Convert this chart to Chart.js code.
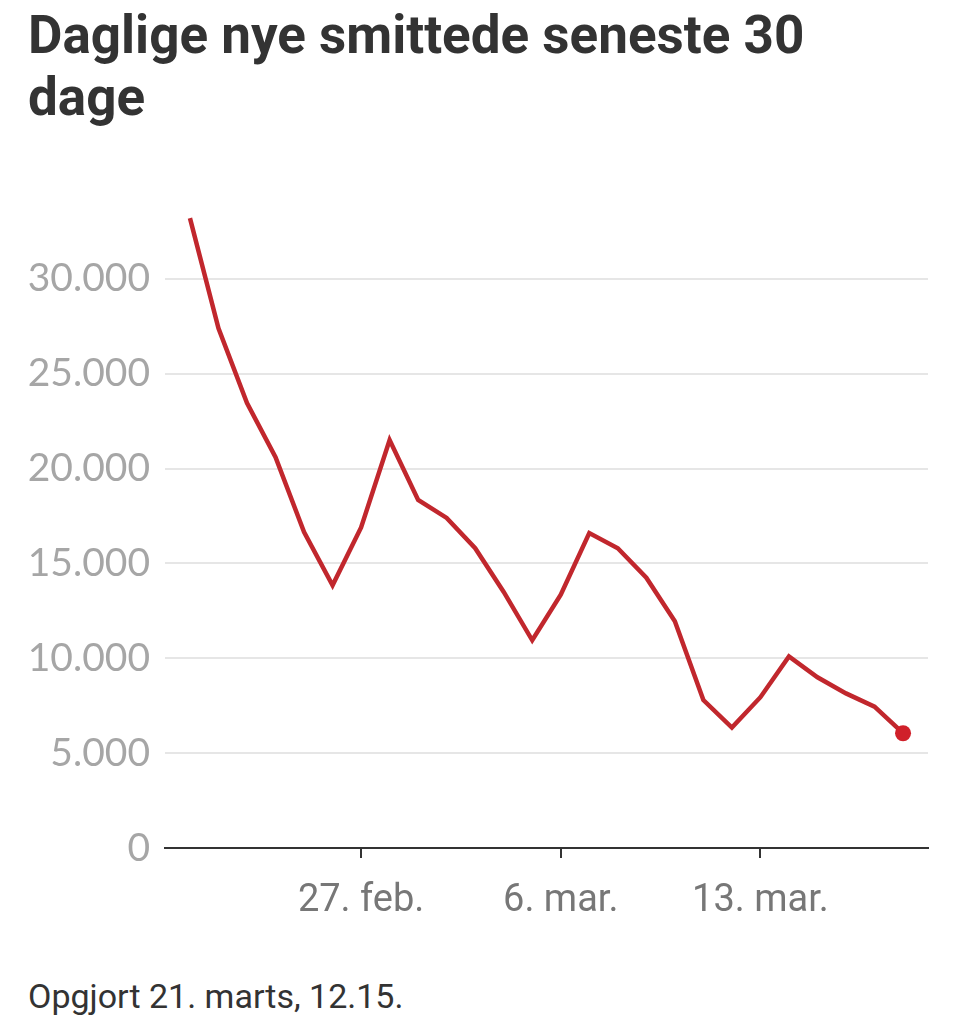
<!DOCTYPE html>
<html>
<head>
<meta charset="utf-8">
<script src="https://cdn.jsdelivr.net/npm/chart.js@4"></script>
<style>
  html, body { margin: 0; padding: 0; background: #fff; width: 960px; height: 1024px; overflow: hidden; }
  #title { position: absolute; left: 28px; top: 4px; width: 900px; margin: 0;
    font-family: "Liberation Sans Narrow", "Roboto", sans-serif; font-weight: bold;
    font-size: 53px; line-height: 62px; color: #333; }
  #note { position: absolute; left: 28px; top: 979px; margin: 0;
    font-family: "Liberation Sans Narrow", "Roboto", sans-serif;
    font-size: 34px; line-height: 34px; color: #333; }
  #wrap { position: absolute; left: 0; top: 150px; width: 960px; height: 800px; }
</style>
</head>
<body>
<h1 id="title">Daglige nye smittede seneste 30 dage</h1>
<div id="wrap"><canvas id="c"></canvas></div>
<p id="note">Opgjort 21. marts, 12.15.</p>
<script>
const dates = ['21. feb.','22. feb.','23. feb.','24. feb.','25. feb.','26. feb.','27. feb.','28. feb.',
  '1. mar.','2. mar.','3. mar.','4. mar.','5. mar.','6. mar.','7. mar.','8. mar.','9. mar.','10. mar.',
  '11. mar.','12. mar.','13. mar.','14. mar.','15. mar.','16. mar.','17. mar.','18. mar.'];
const cases = [33200, 27400, 23450, 20600, 16650, 13850, 16900, 21500, 18350, 17400, 15800, 13500,
  10950, 13350, 16600, 15800, 14250, 11950, 7800, 6350, 7950, 10100, 9000, 8150, 7450, 6050];
const xTickLabels = ['27. feb.', '6. mar.', '13. mar.'];
const yTicks = [0, 5000, 10000, 15000, 20000, 25000, 30000];

const points = cases.map((v, i) => ({ x: i, y: v }));
const radii = cases.map((v, i) => i === cases.length - 1 ? 8 : 0);

new Chart(document.getElementById('c'), {
  type: 'line',
  data: {
    datasets: [{
      data: points,
      borderColor: '#c1272d',
      borderWidth: 4.5,
      tension: 0,
      pointRadius: radii,
      pointHoverRadius: radii,
      pointBackgroundColor: '#d0202a',
      pointBorderWidth: 0
    }]
  },
  options: {
    responsive: true,
    maintainAspectRatio: false,
    animation: false,
    events: [],
    layout: { padding: { top: 53, right: 32, left: 0, bottom: 0 } },
    plugins: { legend: { display: false }, tooltip: { enabled: false } },
    scales: {
      x: {
        type: 'linear',
        min: -0.875,
        max: cases.length - 1 + 0.875,
        afterBuildTicks: (s) => { s.ticks = xTickLabels.map(l => ({ value: dates.indexOf(l) })); },
        afterFit: (s) => { s.height = 102; },
        grid: { display: true, drawOnChartArea: false, drawTicks: true, tickLength: 10, color: '#333', lineWidth: 2 },
        border: { display: true, color: '#333', width: 2 },
        ticks: {
          autoSkip: false,
          maxRotation: 0,
          padding: 21,
          color: '#777',
          font: { family: '"Liberation Sans Narrow", Roboto, sans-serif', size: 38 },
          callback: (v) => dates[v]
        }
      },
      y: {
        min: 0,
        max: 34000,
        afterBuildTicks: (s) => { s.ticks = yTicks.map(v => ({ value: v })); },
        afterFit: (s) => { s.width = 165; },
        grid: { drawTicks: false, color: (ctx) => ctx.tick && ctx.tick.value === 0 ? 'rgba(0,0,0,0)' : '#e6e6e6', lineWidth: 2 },
        border: { display: false },
        ticks: {
          padding: 15,
          color: '#a6a6a6',
          font: { family: 'Lato, sans-serif', size: 39 },
          callback: (v) => v.toLocaleString('da-DK')
        }
      }
    }
  }
});
</script>
</body>
</html>
